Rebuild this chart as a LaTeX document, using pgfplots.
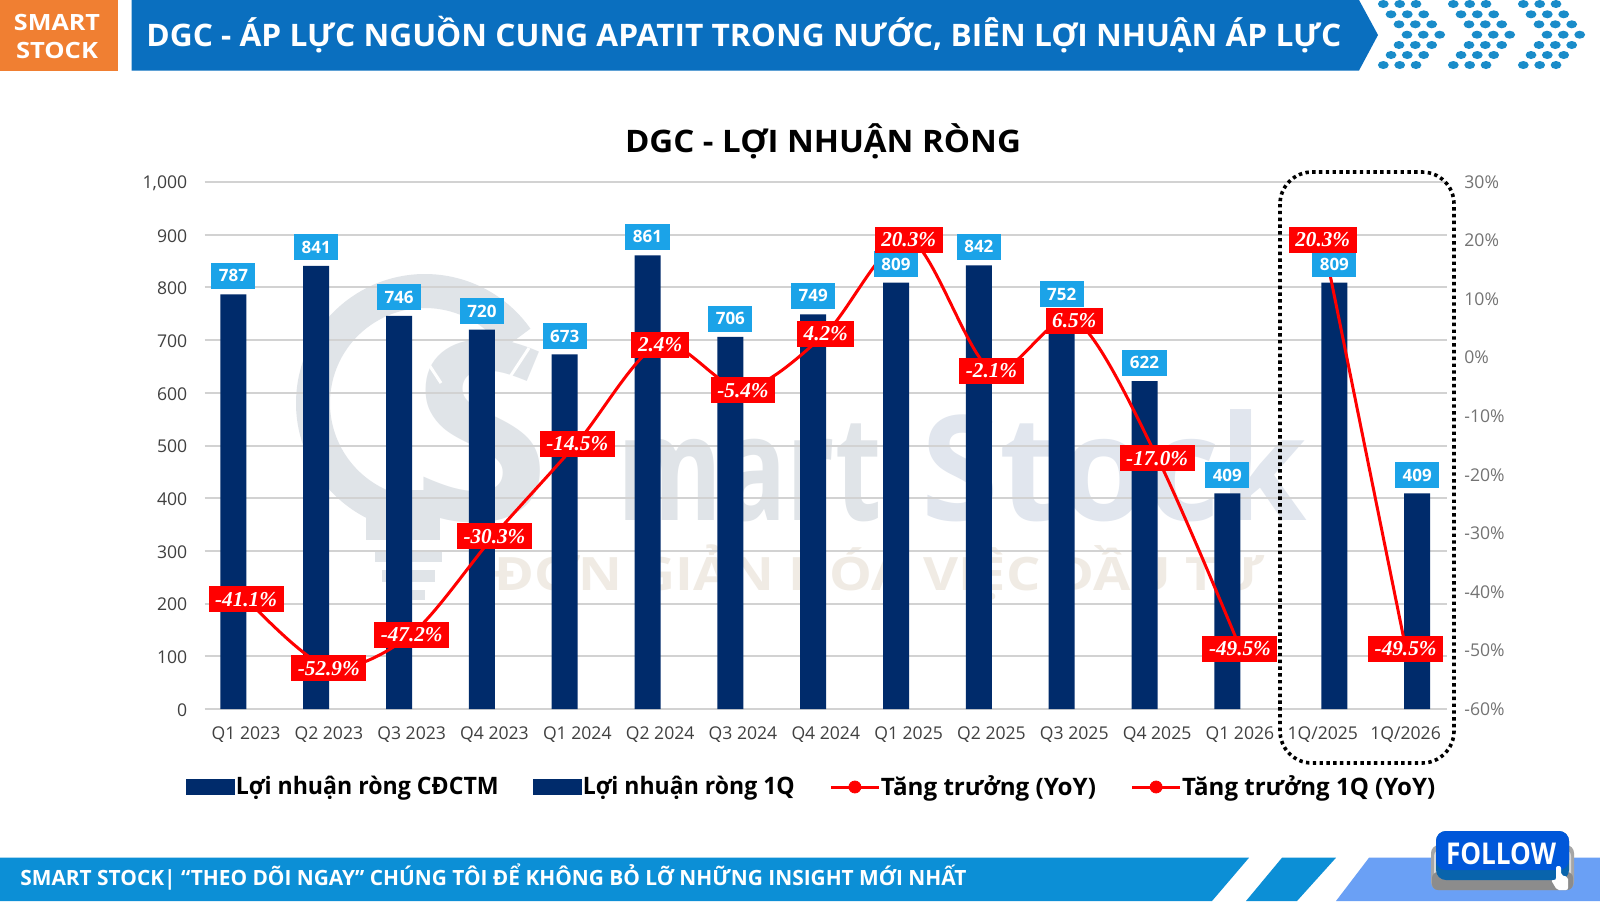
\documentclass[border=0pt]{standalone}
\usepackage{graphicx}
\usepackage{fontspec}
\usepackage{pgfplots}
\pgfplotsset{compat=1.18}
\setmainfont{Open Sans}
\newfontfamily\serifbi[BoldItalicFont={Liberation Serif Bold Italic}]{Liberation Serif}
\newcommand\fs[1]{\fontsize{#1}{#1}\selectfont}
\newcommand\fitw[2]{\resizebox{#1}{\height}{#2}}
\definecolor{barblue}{HTML}{002B6B}
\definecolor{lblblue}{HTML}{1BA3E8}
\definecolor{hdrblue}{HTML}{0A6FBF}
\definecolor{dotblue}{HTML}{1A8CC9}
\definecolor{orangeb}{HTML}{F07F32}
\definecolor{footb}{HTML}{0C8FD6}
\definecolor{footc}{HTML}{6AA0F5}
\definecolor{gridc}{HTML}{D2D2D2}
\definecolor{wmg}{HTML}{E0E4E8}
\definecolor{wmb}{HTML}{E1E6EE}
\definecolor{wmt}{HTML}{F0EBE4}
\pgfplotsset{
 base/.style={scale only axis,width=621.2pt,height=263.5pt,at={(102.3pt,-354.5pt)},anchor=south west,
   xmin=-0.5,xmax=14.5,axis line style={draw=none},major tick length=0pt,
   /pgf/number format/assume math mode=true},
 bluelab/.style={nodes near coords={\pgfmathprintnumber{\pgfplotspointmeta}},point meta=y,
   every node near coord/.append style={fill=lblblue,text=white,font=\fs{8.5}\bfseries,anchor=south,
     inner xsep=7.5pt/2,inner ysep=0pt,minimum height=13pt,yshift=2.5pt,xshift=#1}},
 redlab/.style={nodes near coords={\pgfmathprintnumber[fixed,fixed zerofill,precision=1]{\pgfplotspointmeta}\%},point meta=y,
   every node near coord/.append style={fill=red,text=white,font=\serifbi\fs{10.6}\bfseries\itshape,anchor=center,
     inner xsep=3.3pt,inner ysep=0pt,minimum height=13pt,yshift=-0.5pt}},
}
\begin{document}
\begin{tikzpicture}
\begin{scope}[x=.5pt,y=-.5pt]
\useasboundingbox (0,0) rectangle (1600,901);
\fill[white] (0,0) rectangle (1600,901);
% header
\fill[orangeb] (0,0) rectangle (118.4,70.5);
\node[white,font=\fs{11.2}\bfseries] at (57,22) {\fitw{43pt}{SMART}};
\node[white,font=\fs{11.2}\bfseries] at (57,50) {\fitw{41pt}{STOCK}};
\fill[hdrblue] (131.6,0) -- (1359,0) -- (1378,35) -- (1359,70.5) -- (131.6,70.5) -- cycle;
\node[white,font=\fs{15.5}\bfseries,anchor=west,inner sep=0pt] at (146,35) {\fitw{597.5pt}{DGC - ÁP LỰC NGUỒN CUNG APATIT TRONG NƯỚC, BIÊN LỢI NHUẬN ÁP LỰC}};
\foreach \c in {0,70,140}{
 \foreach \x/\y in {1383.3/4,1399.7/4,1416/4,1391/14.3,1407.3/14.3,1423.7/14.3,1399/24.3,1415.3/24.3,1431.7/24.3,1407/34.7,1423.3/34.7,1439.7/34.7,1399/45,1415.3/45,1431.7/45,1391/55,1407.3/55,1423.7/55,1383.3/65,1399.7/65,1416/65}{
  \fill[dotblue] (\x+\c,\y) ellipse (2.7pt and 2pt);
 }
}
% watermark
\draw[wmg,line width=17pt] (425,403)++(-35:112) arc (-35:-250:112);
\fill[wmg] (366,490) rectangle (440,540);
\fill[wmg] (375,550) rectangle (442,562);
\fill[wmg] (382,570) rectangle (435,582);
\fill[wmg] (392,590) rectangle (425,600);
\node[wmg,font=\fs{125}\bfseries,anchor=base,inner sep=0pt] at (481,520) {S};
\draw[white,line width=1.5pt] (418,348) -- (441,383) (529,348) -- (506,383);
\node[wmg,font=\fs{73}\bfseries,anchor=base west,inner sep=0pt] at (617,520) {\fitw{132pt}{mart}};
\node[wmb,font=\fs{73}\bfseries,anchor=base west,inner sep=0pt] at (921,520) {\fitw{193pt}{Stock}};
\node[wmt,font=\fs{23}\bfseries,anchor=base west,inner sep=0pt] at (494,590) {\fitw{385pt}{ĐƠN GIẢN HÓA VIỆC ĐẦU TƯ}};
% title
\node[black,font=\fs{15.5}\bfseries,inner sep=0pt,anchor=base] at (823,152) {\fitw{198pt}{DGC - LỢI NHUẬN RÒNG}};
% footer
\fill[footb] (0,857.7) -- (1249,857.7) -- (1212,901) -- (0,901) -- cycle;
\fill[footb] (1282,857.7) -- (1336,857.7) -- (1297,901) -- (1246,901) -- cycle;
\fill[footc] (1369,857.7) -- (1600,857.7) -- (1600,901) -- (1336,901) -- cycle;
\node[white,font=\fs{10.5}\bfseries,anchor=base west,inner sep=0pt] at (20,885.5) {\fitw{473pt}{SMART STOCK| “THEO DÕI NGAY” CHÚNG TÔI ĐỂ KHÔNG BỎ LỠ NHỮNG INSIGHT MỚI NHẤT}};
\end{scope}

% bars + left scale + grid
\begin{axis}[base,ymin=0,ymax=1000,ytick={0,100,...,1000},ymajorgrids,
  grid style={gridc,line width=1pt},
  /pgf/number format/1000 sep={,},
  xtick={0,...,14},
  xticklabels={Q1 2023,Q2 2023,Q3 2023,Q4 2023,Q1 2024,Q2 2024,Q3 2024,Q4 2024,Q1 2025,Q2 2025,Q3 2025,Q4 2025,Q1 2026,1Q/2025,1Q/2026},
  ticklabel style={font=\fs{8.8},text=black!75},
  yticklabel style={inner sep=0pt,xshift=-8.5pt,yshift=-0.5pt},
  xticklabel style={inner sep=0pt,yshift=-8.8pt},
  clip=false]
\addplot[ybar,bar width=13pt,bar shift=-6.3pt,fill=barblue,draw=none] coordinates {(0,787)(1,841)(2,746)(3,720)(4,673)(5,861)(6,706)(7,749)(8,809)(9,842)(10,752)(11,622)(12,409)};
\addplot[ybar,bar width=13pt,bar shift=5.8pt,fill=barblue,draw=none] coordinates {(13,809)(14,409)};
\end{axis}

% lines + right scale
\begin{axis}[base,ymin=-60,ymax=30,ytick={-60,-50,...,30},
  axis y line*=right,axis x line=none,
  yticklabel={\pgfmathprintnumber{\tick}\%},
  ticklabel style={font=\fs{8.8},text=black!55},
  yticklabel style={inner sep=0pt,xshift=8.5pt},clip=false]
\addplot[red,line width=1.5pt,smooth,mark=*,mark size=2pt] coordinates {(0,-41.1)(1,-52.9)(2,-47.2)(3,-30.3)(4,-14.5)(5,2.4)(6,-5.4)(7,4.2)(8,20.3)(9,-2.1)(10,6.5)(11,-17.0)(12,-49.5)};
\addplot[red,line width=1.5pt,mark=*,mark size=2pt] coordinates {(13,20.3)(14,-49.5)};
\end{axis}

% blue value labels
\begin{axis}[base,hide axis,ymin=0,ymax=1000,clip=false]
\addplot[ybar,bar width=13pt,bar shift=-6.3pt,fill=none,draw=none,bluelab=-6.3pt] coordinates {(0,787)(1,841)(2,746)(3,720)(4,673)(5,861)(6,706)(7,749)(8,809)(9,842)(10,752)(11,622)(12,409)};
\addplot[ybar,bar width=13pt,bar shift=5.8pt,fill=none,draw=none,bluelab=5.8pt] coordinates {(13,809)(14,409)};
\end{axis}

% red value labels + legend
\begin{axis}[base,hide axis,ymin=-60,ymax=30,clip=false,
  legend columns=4,
  legend cell align=left,
  legend style={at={(-0.015,-0.148)},anchor=west,draw=none,fill=none,inner sep=0pt,
    font=\fs{12}\bfseries,
    /tikz/every even column/.append style={column sep=17.3pt},
    /tikz/every odd column/.append style={column sep=0.3pt},
    nodes={inner sep=0pt,anchor=west}},
  ]
\addlegendimage{legend image code/.code={\fill[barblue] (0pt,-3.75pt) rectangle (24pt,3.75pt);}}
\addlegendentry{\fitw{131.5pt}{Lợi nhuận ròng CĐCTM}}
\addlegendimage{legend image code/.code={\fill[barblue] (0pt,-3.75pt) rectangle (24pt,3.75pt);}}
\addlegendentry{\fitw{106pt}{Lợi nhuận ròng 1Q}}
\addlegendimage{legend image code/.code={\draw[red,line width=1.5pt] (0pt,0pt) -- (24pt,0pt);\fill[red] (12pt,0pt) circle (3pt);}}
\addlegendentry{\fitw{107.5pt}{Tăng trưởng (YoY)}}
\addlegendimage{legend image code/.code={\draw[red,line width=1.5pt] (0pt,0pt) -- (24pt,0pt);\fill[red] (12pt,0pt) circle (3pt);}}
\addlegendentry{\fitw{126.5pt}{Tăng trưởng 1Q (YoY)}}
\addplot[draw=none,redlab,forget plot] coordinates {(0,-41.1)(1,-52.9)(2,-47.2)(3,-30.3)(4,-14.5)(5,2.4)(6,-5.4)(7,4.2)(8,20.3)(9,-2.1)(10,6.5)(11,-17.0)(12,-49.5)};
\addplot[draw=none,redlab,forget plot] coordinates {(13,20.3)(14,-49.5)};
\end{axis}

\begin{scope}[x=.5pt,y=-.5pt]
\draw[black,line width=1.8pt,dash pattern=on 1.7pt off 1.7pt,rounded corners=16pt] (1280,172) rectangle (1454,763);
% follow button
\fill[black!35,rounded corners=4pt] (1431,845) rectangle (1574,890);
\fill[white!85!black,rounded corners=3pt] (1434,850) rectangle (1571,884);
\fill[black!45,rounded corners=3pt] (1432,872) rectangle (1573,890);
\fill[hdrblue!90!black,rounded corners=5pt] (1436,831) rectangle (1569,880);
\fill[blue!60!cyan!85!black,rounded corners=5pt] (1436,831) rectangle (1569,870);
\node[white,font=\fs{15}\bfseries,inner sep=0pt] at (1501,854) {\fitw{55pt}{FOLLOW}};
\fill[white,rounded corners=1pt] (1556,866) -- (1561,866) -- (1561,875) -- (1568,877) -- (1568,890) -- (1557,890) -- (1551,880) -- (1556,880) -- cycle;
\end{scope}
\end{tikzpicture}
\end{document}
